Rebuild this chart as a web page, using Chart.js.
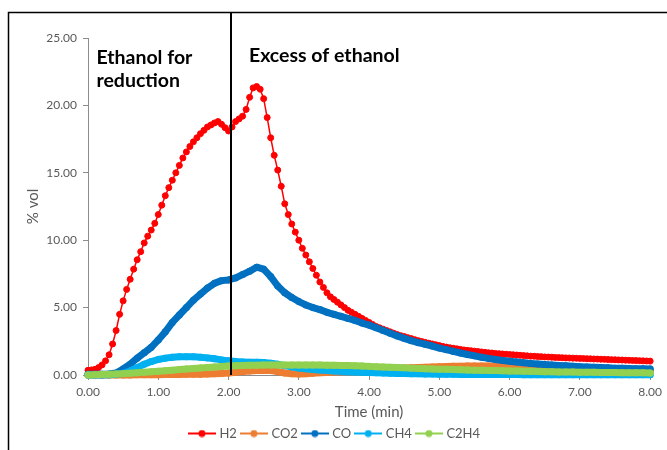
<!DOCTYPE html>
<html>
<head>
<meta charset="utf-8">
<script src="https://cdn.jsdelivr.net/npm/chart.js@4"></script>
<style>
  html, body { margin: 0; padding: 0; background: #fff; }
  #wrap { position: relative; width: 667px; height: 450px; }
</style>
</head>
<body>
<div id="wrap"><canvas id="chart" width="667" height="450"></canvas></div>
<script>
// time grids (min)
const timeFine = [
  0,0.05,0.1,0.15,0.2,0.25,0.3,0.35,0.4,0.45,0.5,0.55,0.6,0.65,0.7,0.75,0.8,0.85,0.9,0.95,
  1,1.05,1.1,1.15,1.2,1.25,1.3,1.35,1.4,1.45,1.5,1.55,1.6,1.65,1.7,1.75,1.8,1.85,1.9,1.95,
  2,2.05,2.1,2.15,2.2,2.25,2.3,2.35,2.4,2.45,2.5,2.55,2.6,2.65,2.7,2.75,2.8,2.85,2.9,2.95,
  3,3.05,3.1,3.15,3.2,3.25,3.3,3.35,3.4,3.45,3.5,3.55,3.6,3.65,3.7,3.75,3.8,3.85,3.9,3.95,
  4,4.05,4.1,4.15,4.2,4.25,4.3,4.35,4.4,4.45,4.5,4.55,4.6,4.65,4.7,4.75,4.8,4.85,4.9,4.95,
  5,5.05,5.1,5.15,5.2,5.25,5.3,5.35,5.4,5.45,5.5,5.55,5.6,5.65,5.7,5.75,5.8,5.85,5.9,5.95,
  6,6.05,6.1,6.15,6.2,6.25,6.3,6.35,6.4,6.45,6.5,6.55,6.6,6.65,6.7,6.75,6.8,6.85,6.9,6.95,
  7,7.05,7.1,7.15,7.2,7.25,7.3,7.35,7.4,7.45,7.5,7.55,7.6,7.65,7.7,7.75,7.8,7.85,7.9,7.95,
  8
];
const timeCoarse = [
  0,0.1,0.2,0.3,0.4,0.5,0.6,0.7,0.8,0.9,
  1,1.1,1.2,1.3,1.4,1.5,1.6,1.7,1.8,1.9,
  2,2.1,2.2,2.3,2.4,2.5,2.6,2.7,2.8,2.9,
  3,3.1,3.2,3.3,3.4,3.5,3.6,3.7,3.8,3.9,
  4,4.1,4.2,4.3,4.4,4.5,4.6,4.7,4.8,4.9,
  5,5.1,5.2,5.3,5.4,5.5,5.6,5.7,5.8,5.9,
  6,6.1,6.2,6.3,6.4,6.5,6.6,6.7,6.8,6.9,
  7,7.1,7.2,7.3,7.4,7.5,7.6,7.7,7.8,7.9,
  8
];

// % vol, H2 on the fine grid, the rest on the coarse grid
const h2 = [
  0.35,0.38,0.42,0.55,0.75,1.05,1.5,2.3,3.3,4.5,5.5,6.35,7.1,7.85,8.55,9.15,9.8,10.3,10.75,11.25,
  11.9,12.6,13.3,13.9,14.45,15.0,15.55,16.1,16.55,16.95,17.3,17.6,17.9,18.15,18.4,18.55,18.7,18.8,18.6,18.35,
  18.1,18.4,18.8,19.0,19.2,19.7,20.6,21.3,21.4,21.2,20.5,19.1,17.6,16.3,15.2,14.0,12.7,11.9,11.2,10.6,
  10.0,9.4,8.9,8.4,7.9,7.4,6.9,6.5,6.1,5.8,5.6,5.4,5.2,5.0,4.8,4.65,4.5,4.35,4.2,4.05,
  3.9,3.75,3.6,3.5,3.4,3.3,3.2,3.1,3.0,2.92,2.85,2.77,2.7,2.62,2.55,2.48,2.42,2.36,2.3,2.24,
  2.18,2.12,2.07,2.02,1.98,1.94,1.9,1.86,1.83,1.8,1.77,1.74,1.71,1.68,1.65,1.63,1.6,1.58,1.56,1.54,
  1.52,1.5,1.48,1.46,1.44,1.42,1.4,1.39,1.37,1.36,1.34,1.33,1.32,1.3,1.29,1.28,1.27,1.26,1.25,1.24,
  1.23,1.22,1.21,1.2,1.19,1.18,1.17,1.16,1.15,1.14,1.13,1.12,1.11,1.1,1.09,1.08,1.07,1.06,1.05,1.04,
  1.03
];
const co2 = [
  0,0,0,0,0,0,0,0.01,0.01,0.02,
  0.02,0.03,0.03,0.04,0.05,0.05,0.06,0.08,0.1,0.12,
  0.15,0.2,0.25,0.3,0.33,0.35,0.33,0.25,0.15,0.1,
  0.08,0.1,0.13,0.16,0.19,0.22,0.25,0.28,0.31,0.34,
  0.37,0.4,0.43,0.46,0.49,0.52,0.54,0.56,0.58,0.6,
  0.62,0.63,0.64,0.65,0.66,0.66,0.67,0.67,0.67,0.67,
  0.66,0.66,0.65,0.64,0.63,0.62,0.6,0.58,0.56,0.54,
  0.52,0.5,0.48,0.45,0.42,0.4,0.37,0.35,0.32,0.3,
  0.28
];
const co = [
  0.05,0.05,0.05,0.08,0.15,0.45,0.8,1.25,1.65,2.05,
  2.6,3.2,3.9,4.45,5.0,5.55,6.0,6.45,6.8,7.0,
  7.05,7.2,7.45,7.7,8.0,7.85,7.3,6.6,6.1,5.75,
  5.45,5.2,5.0,4.85,4.65,4.5,4.35,4.2,4.05,3.85,
  3.7,3.5,3.3,3.1,2.9,2.72,2.55,2.4,2.28,2.15,
  2.0,1.88,1.75,1.63,1.52,1.42,1.32,1.23,1.15,1.08,
  1.02,0.96,0.91,0.86,0.82,0.78,0.74,0.71,0.68,0.65,
  0.62,0.6,0.57,0.55,0.53,0.51,0.5,0.48,0.47,0.46,
  0.45
];
const ch4 = [
  0,0,0,0.02,0.05,0.12,0.3,0.55,0.8,1.0,
  1.15,1.25,1.32,1.35,1.36,1.35,1.32,1.27,1.2,1.12,
  1.05,1.0,0.97,0.95,0.95,0.92,0.88,0.8,0.7,0.6,
  0.52,0.46,0.41,0.37,0.33,0.3,0.27,0.24,0.22,0.2,
  0.18,0.16,0.15,0.13,0.12,0.11,0.1,0.09,0.08,0.07,
  0.06,0.05,0.05,0.04,0.04,0.04,0.03,0.03,0.03,0.03,
  0.03,0.03,0.02,0.02,0.02,0.02,0.02,0.02,0.02,0.02,
  0.02,0.02,0.02,0.02,0.02,0.02,0.02,0.02,0.02,0.02,
  0.02
];
const c2h4 = [
  0,0.02,0.04,0.06,0.08,0.1,0.13,0.16,0.2,0.24,
  0.28,0.32,0.36,0.4,0.44,0.48,0.52,0.56,0.6,0.63,
  0.66,0.68,0.7,0.72,0.73,0.74,0.75,0.75,0.75,0.75,
  0.75,0.75,0.74,0.74,0.73,0.72,0.71,0.7,0.68,0.66,
  0.64,0.62,0.6,0.57,0.55,0.53,0.51,0.49,0.47,0.45,
  0.43,0.42,0.4,0.39,0.37,0.36,0.35,0.34,0.33,0.32,
  0.3,0.29,0.28,0.27,0.26,0.25,0.24,0.23,0.22,0.22,
  0.21,0.2,0.2,0.19,0.18,0.18,0.17,0.17,0.16,0.16,
  0.15
];

const seriesNames = ["H2", "CO2", "CO", "CH4", "C2H4"];
const seriesColors = ["#FF0000", "#ED7D31", "#0070C0", "#00B0F0", "#92D050"];

const dividerTime = 2.03;
const leftNote = ["Ethanol for", "reduction"];
const rightNote = "Excess of ethanol";

const xTitle = "Time (min)";
const yTitle = "% vol";

const FONT = "Lato, 'Noto Sans', sans-serif";
const GREY_TEXT = "#595959";

function pairs(xs, ys) {
  return ys.map((y, i) => ({ x: xs[i], y: y }));
}

// small line + dot icons for the legend, like Excel
function legendIcon(color) {
  const c = document.createElement("canvas");
  c.width = 28;
  c.height = 8;
  const g = c.getContext("2d");
  g.strokeStyle = color;
  g.lineWidth = 2;
  g.beginPath();
  g.moveTo(0, 4);
  g.lineTo(28, 4);
  g.stroke();
  g.fillStyle = color;
  g.beginPath();
  g.arc(14, 4, 3.5, 0, Math.PI * 2);
  g.fill();
  return c;
}
const icons = seriesColors.map(legendIcon);

function bandSeries(idx, data) {
  return {
    label: seriesNames[idx],
    data: pairs(timeCoarse, data),
    borderColor: seriesColors[idx],
    backgroundColor: seriesColors[idx],
    borderWidth: 7,
    borderCapStyle: "round",
    borderJoinStyle: "round",
    pointRadius: 3.5,
    pointBorderWidth: 0,
    pointBackgroundColor: seriesColors[idx],
    order: 5 - idx,
    clip: false
  };
}

const datasets = [
  {
    label: seriesNames[0],
    data: pairs(timeFine, h2),
    borderColor: seriesColors[0],
    backgroundColor: seriesColors[0],
    borderWidth: 1.5,
    pointRadius: 3,
    pointBorderWidth: 1,
    pointBackgroundColor: seriesColors[0],
    pointBorderColor: seriesColors[0],
    order: 5,
    clip: false
  },
  bandSeries(1, co2),
  bandSeries(2, co),
  bandSeries(3, ch4),
  bandSeries(4, c2h4)
];

// frame, divider line and the two notes
const decorations = {
  id: "decorations",
  afterDatasetsDraw(chart) {
    const ctx = chart.ctx;
    const x = chart.scales.x;
    const px = Math.round(x.getPixelForValue(dividerTime));
    ctx.save();
    ctx.strokeStyle = "#000";
    ctx.lineWidth = 2;
    ctx.beginPath();
    ctx.moveTo(px, 12);
    ctx.lineTo(px, chart.chartArea.bottom);
    ctx.stroke();
    ctx.restore();
  },
  afterDraw(chart) {
    const ctx = chart.ctx;
    const x = chart.scales.x;
    const y = chart.scales.y;
    ctx.save();
    // outer frame (only top and left are inside the picture)
    ctx.strokeStyle = "#000";
    ctx.lineWidth = 1.5;
    ctx.beginPath();
    ctx.moveTo(8.5, chart.height);
    ctx.lineTo(8.5, 12.5);
    ctx.lineTo(chart.width, 12.5);
    ctx.stroke();

    ctx.fillStyle = "#000";
    ctx.font = "bold 19.5px " + FONT;
    ctx.textBaseline = "middle";
    ctx.textAlign = "left";
    ctx.fillText(leftNote[0], x.getPixelForValue(0.12), y.getPixelForValue(23.55));
    ctx.fillText(leftNote[1], x.getPixelForValue(0.12), y.getPixelForValue(21.8));
    ctx.fillText(rightNote, x.getPixelForValue(2.29), y.getPixelForValue(23.7));
    ctx.restore();
  }
};

new Chart(document.getElementById("chart"), {
  type: "line",
  data: { datasets: datasets },
  options: {
    responsive: false,
    animation: false,
    events: [],
    layout: { padding: { left: 20, right: 16, top: 38, bottom: 0 } },
    scales: {
      x: {
        type: "linear",
        min: 0,
        max: 8,
        afterFit(scale) { scale.height = 46; },
        ticks: {
          stepSize: 1,
          padding: 5,
          color: GREY_TEXT,
          font: { family: FONT, size: 12 },
          callback: v => v.toFixed(2)
        },
        grid: { drawOnChartArea: false, tickLength: 5, color: "#8c8c8c" },
        border: { color: "#8c8c8c", width: 1 },
        title: {
          display: true,
          text: xTitle,
          color: GREY_TEXT,
          font: { family: FONT, size: 15 },
          padding: { top: 2, bottom: 0 }
        }
      },
      y: {
        min: 0,
        max: 25,
        afterFit(scale) { scale.width = 68; },
        ticks: {
          stepSize: 5,
          padding: 6,
          color: GREY_TEXT,
          font: { family: FONT, size: 12 },
          callback: v => v.toFixed(2)
        },
        grid: { drawOnChartArea: false, tickLength: 5, color: "#8c8c8c" },
        border: { color: "#8c8c8c", width: 1 },
        title: {
          display: true,
          text: yTitle,
          color: GREY_TEXT,
          font: { family: FONT, size: 15 },
          padding: { top: 4, bottom: 0 }
        }
      }
    },
    plugins: {
      tooltip: { enabled: false },
      legend: {
        position: "bottom",
        labels: {
          usePointStyle: true,
          pointStyleWidth: 22,
          padding: 6,
          color: GREY_TEXT,
          font: { family: FONT, size: 13 },
          sort: (a, b) => a.datasetIndex - b.datasetIndex,
          generateLabels(chart) {
            const items = Chart.defaults.plugins.legend.labels.generateLabels(chart);
            items.forEach(it => { it.pointStyle = icons[it.datasetIndex]; });
            return items;
          }
        }
      }
    }
  },
  plugins: [decorations]
});
</script>
</body>
</html>
